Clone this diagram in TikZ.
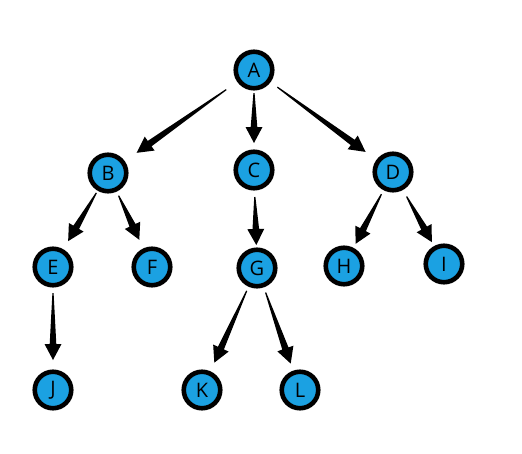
\documentclass[tikz,border=0pt]{standalone}
\usepackage{fontspec}
\setmainfont{Open Sans}
\usetikzlibrary{positioning,calc}
\definecolor{nodeblue}{HTML}{1BA1E2}

\begin{document}
\begin{tikzpicture}[
  x=1pt, y=-1pt,
  font=\fontsize{20}{24}\selectfont,
  vert/.style={circle, draw=black, line width=4.6pt, fill=nodeblue, minimum size=36.5pt, inner sep=0pt},
  % tapered arrow; #1 = gap from start centre, #2 = gap from end centre
  taper/.style 2 args={fill=black, to path={
    let \p1=($(\tikztostart)!#1!(\tikztotarget)$),
        \p2=($(\tikztotarget)!#2!(\tikztostart)$),
        \p3=($(\p2)!16pt!(\p1)$) in
    ($(\p1)!0.6pt!90:(\p2)$) -- ($(\p3)!3.3pt!-90:(\p1)$) -- ($(\p3)!8.5pt!-90:(\p1)$)
    -- (\p2) -- ($(\p3)!8.5pt!90:(\p1)$) -- ($(\p3)!3.3pt!90:(\p1)$)
    -- ($(\p1)!0.6pt!-90:(\p2)$) -- cycle}},
]
\useasboundingbox (0,0) rectangle (522,453);

% tree nodes
\node[vert] (a) at (254,70)  {A};
\node[vert] (b) at (108,173) {B};
\node[vert] (c) at (254,170) {C};
\node[vert] (d) at (393,172) {D};
\node[vert] (e) at (53,267)  {E};
\node[vert] (f) at (152,267) {F};
\node[vert] (g) at (257,268) {G};
\node[vert] (h) at (344,266) {H};
\node[vert] (i) at (444,264) {I};
\node[vert] (j) at (53,390)  {J};
\node[vert] (k) at (202,390) {K};
\node[vert] (l) at (300,390) {L};

% edges
\fill[taper={34pt}{35pt}] (a) to (b);
\fill[taper={23pt}{27pt}] (a) to (c);
\fill[taper={29pt}{34pt}] (a) to (d);
\fill[taper={23pt}{30pt}] (b) to (e);
\fill[taper={25pt}{30pt}] (b) to (f);
\fill[taper={27pt}{23pt}] (c) to (g);
\fill[taper={25pt}{25pt}] (d) to (h);
\fill[taper={28pt}{25pt}] (d) to (i);
\fill[taper={26pt}{30pt}] (e) to (j);
\fill[taper={25pt}{30pt}] (g) to (k);
\fill[taper={26pt}{28pt}] (g) to (l);

\end{tikzpicture}
\end{document}
